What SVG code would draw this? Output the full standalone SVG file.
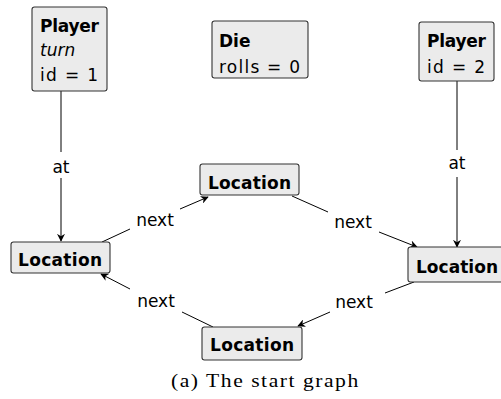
<svg xmlns="http://www.w3.org/2000/svg" width="501" height="399" viewBox="0 0 501 399">
<style>
.box{fill:#ebebeb;stroke:#333;stroke-width:1.1}
.t{font-family:"DejaVu Sans",sans-serif;font-size:17px;fill:#000}
.b{font-weight:bold}
.i{font-style:italic}
.e{fill:none;stroke:#000;stroke-width:1}
.cap{font-family:"Liberation Serif",serif;font-size:18px;fill:#000}
</style>
<defs>
<marker id="ah" viewBox="0 0 10 10" refX="9" refY="5" markerWidth="8" markerHeight="8" markerUnits="userSpaceOnUse" orient="auto">
<path d="M0,0 L10,5 L0,10 L3,5 Z" fill="#000"/>
</marker>
</defs>
<rect width="501" height="399" fill="#fff"/>
<g id="connectors">
<line class="e" x1="61" y1="91" x2="61" y2="152"/>
<line class="e" x1="61" y1="178" x2="61" y2="241" marker-end="url(#ah)"/>
<text class="t" x="61" y="173" text-anchor="middle">at</text>
<line class="e" x1="457" y1="81" x2="457" y2="150"/>
<line class="e" x1="457" y1="177" x2="457" y2="247" marker-end="url(#ah)"/>
<text class="t" x="457" y="169" text-anchor="middle">at</text>
<line class="e" x1="102" y1="242" x2="130" y2="229"/>
<line class="e" x1="180" y1="209" x2="208" y2="197" marker-end="url(#ah)"/>
<text class="t" x="155" y="226" text-anchor="middle">next</text>
<line class="e" x1="292" y1="196" x2="328" y2="212"/>
<line class="e" x1="379" y1="232" x2="417" y2="247" marker-end="url(#ah)"/>
<text class="t" x="353" y="228" text-anchor="middle">next</text>
<line class="e" x1="414" y1="282" x2="385" y2="293"/>
<line class="e" x1="330" y1="312" x2="298" y2="326" marker-end="url(#ah)"/>
<text class="t" x="354" y="308" text-anchor="middle">next</text>
<line class="e" x1="213" y1="327" x2="182" y2="312"/>
<line class="e" x1="130" y1="289" x2="101" y2="274" marker-end="url(#ah)"/>
<text class="t" x="156" y="307" text-anchor="middle">next</text>
</g>
<g id="player1">
<rect class="box" x="32" y="7" width="75" height="84" rx="2.5"/>
<text class="t b" x="40" y="32" textLength="59">Player</text>
<text class="t i" x="40" y="56">turn</text>
<text class="t" x="40" y="81" textLength="58">id = 1</text>
</g>
<g id="die">
<rect class="box" x="212" y="21" width="96" height="57" rx="2.5"/>
<text class="t b" x="219" y="47">Die</text>
<text class="t" x="219" y="73" textLength="81">rolls = 0</text>
</g>
<g id="player2">
<rect class="box" x="419" y="22" width="75" height="59" rx="2.5"/>
<text class="t b" x="427" y="47" textLength="59">Player</text>
<text class="t" x="427" y="73" textLength="58">id = 2</text>
</g>
<g id="locTop">
<rect class="box" x="200" y="164" width="99" height="31" rx="2.5"/>
<text class="t b" x="208" y="189" textLength="83">Location</text>
</g>
<g id="locLeft">
<rect class="box" x="11" y="242" width="99" height="31" rx="2.5"/>
<text class="t b" x="18" y="266" textLength="84">Location</text>
</g>
<g id="locRight">
<rect class="box" x="408" y="247" width="99" height="35" rx="2.5"/>
<text class="t b" x="416" y="273" textLength="82">Location</text>
</g>
<g id="locBottom">
<rect class="box" x="202" y="327" width="100" height="33" rx="2.5"/>
<text class="t b" x="210" y="351" textLength="84">Location</text>
</g>
<text class="cap" transform="translate(171,387) scale(1.2,1)" x="0" y="0" textLength="156" lengthAdjust="spacing">(a) The start graph</text>
</svg>
